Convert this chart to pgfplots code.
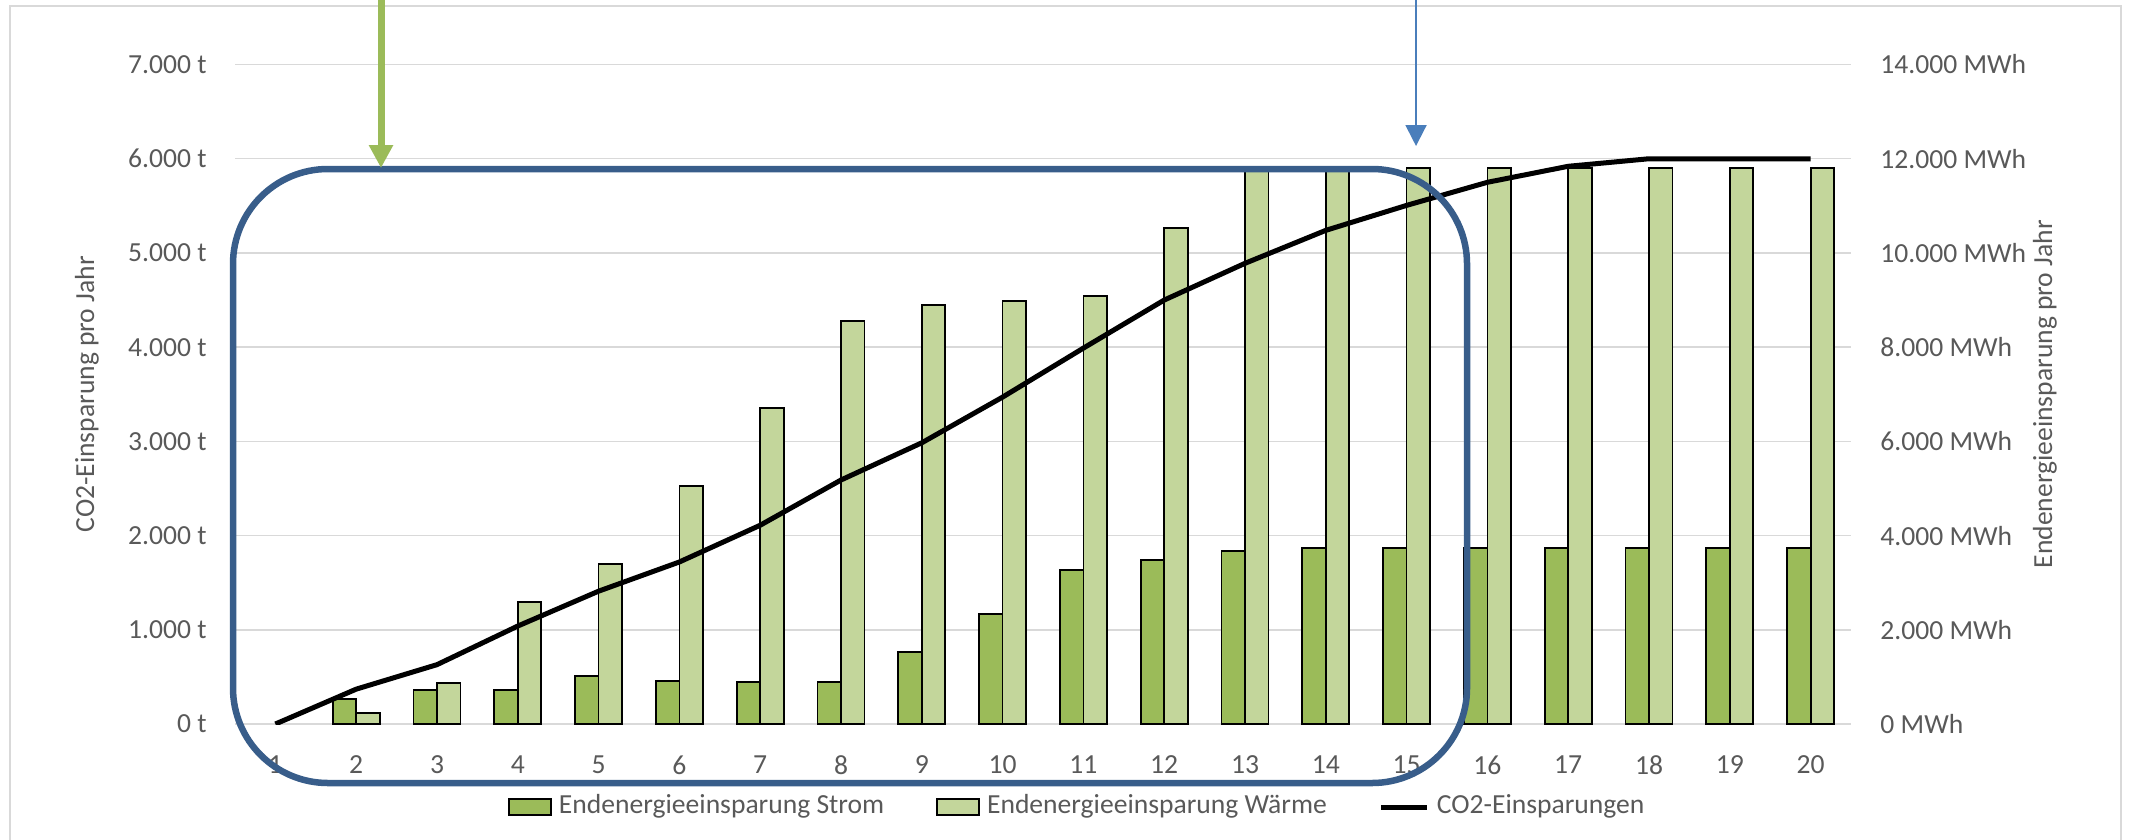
\documentclass[border=0pt]{standalone}
\usepackage{fontspec}
\setmainfont{Carlito}
\usepackage{pgfplots}
\pgfplotsset{compat=1.18}
\usetikzlibrary{arrows.meta}
\definecolor{strom}{HTML}{9BBB59}
\definecolor{waerme}{HTML}{C3D69B}
\definecolor{boxblue}{HTML}{385D8A}
\definecolor{arrowblue}{HTML}{4A7EBB}
\definecolor{txt}{HTML}{595959}
\definecolor{gridc}{HTML}{D9D9D9}
\pgfplotsset{
  barlegend/.style={legend image code/.code={\draw[##1] (0mm,-0.8mm) rectangle (4.2mm,0.8mm);}},
  linelegend/.style={legend image code/.code={\draw[##1] (0mm,0mm) -- (4.6mm,0mm);}},
}
\begin{document}
\begin{tikzpicture}[font=\fontsize{7.85}{9.2}\selectfont]
\begin{scope}[x=0.1mm,y=-0.1mm]
\draw[gridc, line width=0.15mm] (10,860) -- (10,6) -- (2121,6) -- (2121,860);
\end{scope}

\begin{axis}[
  at={(23.5mm,-72.4mm)}, anchor=south west,
  scale only axis, width=161.6mm, height=65.95mm,
  xmin=0.5, xmax=20.5, ymin=0, ymax=14000,
  scaled y ticks=false,
  axis line style={draw=none},
  major tick length=0pt,
  xtick={1,...,20},
  xticklabels={1,2,3,4,5,6,7,8,9,10,11,12,13,14,15,16,17,18,19,20},
  xticklabel style={yshift=-1.9mm, text=txt},
  ytick={0,2000,4000,6000,8000,10000,12000,14000},
  yticklabels={0 MWh,2.000 MWh,4.000 MWh,6.000 MWh,8.000 MWh,10.000 MWh,12.000 MWh,14.000 MWh},
  yticklabel pos=right,
  yticklabel style={xshift=1.7mm, text=txt},
  ymajorgrids, grid style={gridc, line width=0.15mm},
  ylabel={Endenergieeinsparung pro Jahr},
  ylabel style={at={(axis description cs:1.12,0.5)}, anchor=center, text=txt},
  ybar=0pt, bar width=2.35mm,
]
\addplot[fill=strom, draw=black, line width=0.5pt] coordinates {
(2,537) (3,722) (4,722) (5,1025) (6,913) (7,885) (8,885) (9,1522) (10,2342)
(11,3269) (12,3481) (13,3666) (14,3736) (15,3740) (16,3740) (17,3740) (18,3740) (19,3740) (20,3740)};
\addplot[fill=waerme, draw=black, line width=0.5pt] coordinates {
(2,234) (3,864) (4,2596) (5,3396) (6,5045) (7,6701) (8,8561) (9,8887) (10,8979)
(11,9078) (12,10535) (13,11800) (14,11800) (15,11800) (16,11800) (17,11800) (18,11800) (19,11800) (20,11800)};
\end{axis}

\begin{axis}[
  at={(23.5mm,-72.4mm)}, anchor=south west,
  scale only axis, width=161.6mm, height=65.95mm,
  xmin=0.5, xmax=20.5, ymin=0, ymax=7000,
  scaled y ticks=false,
  axis line style={draw=none},
  major tick length=0pt,
  xtick=\empty,
  ytick={0,1000,2000,3000,4000,5000,6000,7000},
  yticklabels={0 t,1.000 t,2.000 t,3.000 t,4.000 t,5.000 t,6.000 t,7.000 t},
  yticklabel style={xshift=-1.6mm, text=txt},
  ylabel={CO2-Einsparung pro Jahr},
  ylabel style={at={(axis description cs:-0.0916,0.5)}, anchor=center, text=txt},
  legend columns=3,
  legend style={at={(0.5228,-0.1259)}, anchor=center, draw=none, fill=none,
    text=txt, /tikz/every even column/.append style={column sep=4.5mm}},
  legend cell align=left,
]
\addlegendimage{barlegend, fill=strom, draw=black, line width=0.5pt}
\addlegendimage{barlegend, fill=waerme, draw=black, line width=0.5pt}
\addplot[linelegend, black, line width=0.5mm, line join=round] coordinates {
(1,0) (2,370) (3,630) (4,1040) (5,1410) (6,1720) (7,2110) (8,2590) (9,2985) (10,3470)
(11,3990) (12,4500) (13,4890) (14,5240) (15,5505) (16,5750) (17,5920) (18,6000) (19,6000) (20,6000)};
\legend{Endenergieeinsparung Strom, Endenergieeinsparung Wärme, CO2-Einsparungen}
\end{axis}

\begin{scope}[x=0.1mm,y=-0.1mm]
\draw[boxblue, line width=0.65mm, rounded corners=9.5mm] (233,169) rectangle (1467,783);
\draw[strom, line width=0.7mm, -{Triangle[width=2.3mm,length=2.3mm]}] (381,0) -- (381,168);
\draw[arrowblue, line width=0.2mm, -{Triangle[width=2.1mm,length=2.1mm]}] (1416,0) -- (1416,146);
\end{scope}
\pgfresetboundingbox
\useasboundingbox (0mm,0mm) rectangle (213.6mm,-84mm);
\end{tikzpicture}
\end{document}
